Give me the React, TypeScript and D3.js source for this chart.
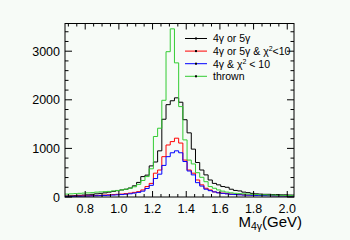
import React from "react";
import * as d3 from "d3";

const binLow = [
  0.68, 0.705, 0.73, 0.755, 0.78, 0.805, 0.83, 0.855, 0.88, 0.905, 0.93, 0.955, 0.98, 1.005,
  1.03, 1.055, 1.08, 1.105, 1.13, 1.155, 1.18, 1.205, 1.23, 1.255, 1.28, 1.305, 1.33, 1.355,
  1.38, 1.405, 1.43, 1.455, 1.48, 1.505, 1.53, 1.555, 1.58, 1.605, 1.63, 1.655, 1.68, 1.705,
  1.73, 1.755, 1.78, 1.805, 1.83, 1.855, 1.88, 1.905, 1.93, 1.955, 1.98, 2.005, 2.03,
];
const binWidth = 0.025;

const black = [
  20, 25, 30, 35, 40, 45, 55, 65, 75, 85, 100, 115, 130, 145, 160, 185, 230, 300, 420, 450, 640,
  720, 950, 1600, 1900, 1980, 2040, 1950, 1590, 1320, 985, 710, 555, 455, 350, 280, 250, 215, 200,
  160, 135, 125, 100, 90, 75, 65, 60, 55, 55, 50, 50, 45, 45, 40, 40,
];
const red = [
  15, 15, 20, 20, 25, 25, 30, 30, 35, 40, 45, 50, 55, 60, 70, 80, 95, 110, 145, 215, 280, 490, 555,
  830, 1070, 1140, 1210, 1110, 760, 555, 490, 350, 250, 180, 145, 105, 90, 80, 70, 60, 55, 50, 45,
  40, 40, 35, 35, 30, 30, 25, 25, 25, 20, 20, 20,
];
const blue = [
  12, 12, 15, 15, 18, 20, 22, 25, 28, 32, 36, 40, 45, 50, 58, 66, 80, 95, 120, 175, 240, 380, 470,
  650, 830, 910, 950, 910, 730, 535, 455, 295, 225, 160, 130, 105, 85, 75, 65, 55, 50, 45, 40, 38,
  35, 32, 30, 28, 26, 24, 22, 20, 20, 18, 18,
];
const thrown = [
  60, 65, 70, 75, 80, 85, 90, 100, 105, 110, 115, 125, 135, 145, 160, 180, 210, 260, 340, 420, 580,
  1245, 1415, 1990, 2990, 3460, 2760, 1860, 1175, 760, 680, 500, 405, 315, 215, 180, 145, 120, 100,
  85, 75, 70, 65, 60, 55, 50, 45, 45, 40, 40, 35, 35, 30, 30, 30,
];

const xTicks = [0.8, 1.0, 1.2, 1.4, 1.6, 1.8, 2.0];
const yTicks = [0, 1000, 2000, 3000];

const series = [
  { name: "black", values: black, color: "#000000" },
  { name: "red", values: red, color: "#ff0000" },
  { name: "blue", values: blue, color: "#0000ff" },
  { name: "thrown", values: thrown, color: "#33cc33" },
];

const W = 350;
const H = 240;
const L = 65;
const R = 294;
const T = 23.5;
const B = 197;

export default function App() {
  const x = d3.scaleLinear().domain([0.68, 2.04]).range([L, R]);
  const y = d3.scaleLinear().domain([0, 3570]).range([B, T]);

  const stepPath = (vals: number[]) => {
    const pts: [number, number][] = [];
    vals.forEach((v, i) => {
      pts.push([x(binLow[i]), y(v)]);
      pts.push([x(binLow[i] + binWidth), y(v)]);
    });
    return d3.line()(pts) || "";
  };

  const xMinor = d3.range(0.7, 2.041, 0.05);
  const yMinor = d3.range(0, 3571, 200);

  const font = "'Liberation Sans', Arial, Helvetica, sans-serif";

  const legend = [
    { color: "#000000", label: <tspan>4γ or 5γ</tspan> },
    {
      color: "#ff0000",
      label: (
        <>
          <tspan>4γ or 5γ &amp; χ</tspan>
          <tspan fontSize={7} dy={-4}>2</tspan>
          <tspan dy={4}>&lt;10</tspan>
        </>
      ),
    },
    {
      color: "#0000ff",
      label: (
        <>
          <tspan>4γ &amp; χ</tspan>
          <tspan fontSize={7} dy={-4}>2</tspan>
          <tspan dy={4}> &lt; 10</tspan>
        </>
      ),
    },
    { color: "#33cc33", label: <tspan>thrown</tspan> },
  ];

  return (
    <svg
      width={W}
      height={H}
      style={{ position: "absolute", left: 0, top: 0 }}
      fontFamily={font}
    >
      <rect x={0} y={0} width={W} height={H} fill="#f7fbf7" />
      <defs>
        <clipPath id="frame">
          <rect x={L} y={T} width={R - L} height={B - T} />
        </clipPath>
      </defs>
      <g clipPath="url(#frame)">
        {series.map((s) => (
          <path key={s.name} d={stepPath(s.values)} fill="none" stroke={s.color} strokeWidth={1} />
        ))}
      </g>
      <rect x={L} y={T} width={R - L} height={B - T} fill="none" stroke="#000" strokeWidth={1} />
      {xMinor.map((v, i) => {
        const major = xTicks.some((t) => Math.abs(t - v) < 1e-6);
        const len = major ? 6 : 3;
        return (
          <g key={"xt" + i}>
            <line x1={x(v)} x2={x(v)} y1={B} y2={B - len} stroke="#000" />
            <line x1={x(v)} x2={x(v)} y1={T} y2={T + len} stroke="#000" />
          </g>
        );
      })}
      {yMinor.map((v, i) => {
        const major = v % 1000 === 0;
        const len = major ? 7 : 3.5;
        return (
          <g key={"yt" + i}>
            <line x1={L} x2={L + len} y1={y(v)} y2={y(v)} stroke="#000" />
            <line x1={R} x2={R - len} y1={y(v)} y2={y(v)} stroke="#000" />
          </g>
        );
      })}
      {xTicks.map((t) => (
        <text key={"xl" + t} x={x(t)} y={213} fontSize={12.5} textAnchor="middle" fill="#000">
          {t.toFixed(1)}
        </text>
      ))}
      {yTicks.map((t) => (
        <text key={"yl" + t} x={60} y={y(t) + 4.5} fontSize={12.5} textAnchor="end" fill="#000">
          {t}
        </text>
      ))}
      <text x={302} y={227} fontSize={15} textAnchor="end" fill="#000">
        <tspan>M</tspan>
        <tspan fontSize={10.5} dy={3}>4γ</tspan>
        <tspan dy={-3}>(GeV)</tspan>
      </text>
      {legend.map((e, i) => {
        const cy = 38.5 + i * 12.6;
        return (
          <g key={"lg" + i}>
            <line x1={185} x2={207} y1={cy} y2={cy} stroke={e.color} strokeWidth={1} />
            <rect x={195} y={cy - 1} width={2} height={2} fill="#000" />
            <text x={213} y={cy + 3.8} fontSize={10.5} fill="#000">
              {e.label}
            </text>
          </g>
        );
      })}
    </svg>
  );
}
